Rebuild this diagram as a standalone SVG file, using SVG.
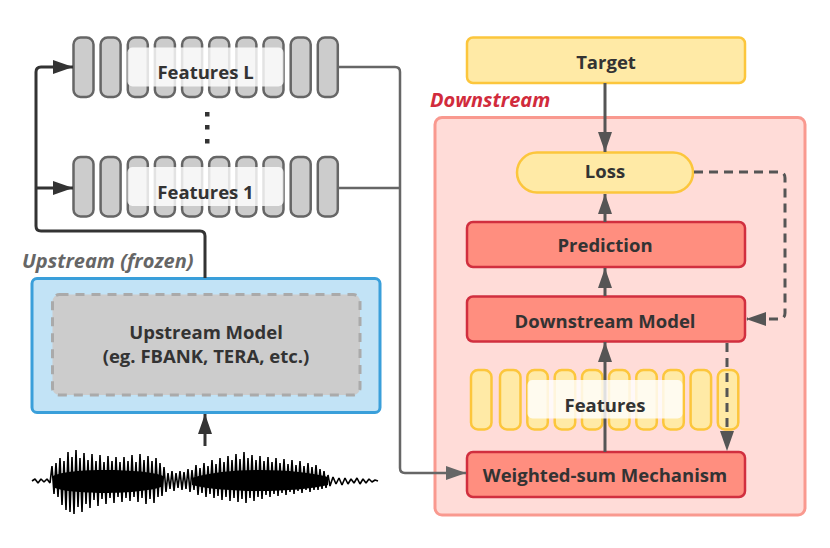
<svg xmlns="http://www.w3.org/2000/svg" width="830" height="548" viewBox="0 0 830 548">
<defs>
<style>
.t{font-family:"Open Sans","Liberation Sans",sans-serif;font-weight:700;font-size:18.5px;fill:#333;text-anchor:middle}
.gbar{fill:#cccccc;stroke:#666;stroke-width:2.5}
.ybar{fill:#ffeaa6;stroke:#fcc63c;stroke-width:2.5}
.lbl{fill:#fff;fill-opacity:0.82}
.red{fill:#ff8e7f;stroke:#d12f3f;stroke-width:2.5}
.yel{fill:#ffeaa6;stroke:#fcc63c;stroke-width:2.5}
.c1{fill:none;stroke:#333;stroke-width:3}
.c2{fill:none;stroke:#666;stroke-width:2.5}
.c3{fill:none;stroke:#555;stroke-width:3}
.dash{fill:none;stroke:#555;stroke-width:3;stroke-dasharray:9 6}
</style>
<marker id="a1" markerUnits="userSpaceOnUse" markerWidth="20" markerHeight="14" refX="20" refY="7" orient="auto"><path d="M0,0 L20,7 L0,14 z" fill="#333"/></marker>
<marker id="a2" markerUnits="userSpaceOnUse" markerWidth="20" markerHeight="14" refX="20" refY="7" orient="auto"><path d="M0,0 L20,7 L0,14 z" fill="#666"/></marker>
<marker id="a3" markerUnits="userSpaceOnUse" markerWidth="20" markerHeight="14" refX="20" refY="7" orient="auto"><path d="M0,0 L20,7 L0,14 z" fill="#555"/></marker>
</defs>
<rect width="830" height="548" fill="#fff"/>

<g id="downstream-container">
<rect x="435" y="117.5" width="370" height="397.5" rx="7" fill="#ffdcd8" stroke="#f9998f" stroke-width="3"/>
<text x="430" y="107" style="font-family:'Open Sans','Liberation Sans',sans-serif;font-weight:700;font-style:italic;font-size:20px;fill:#d12b3c">Downstream</text>
</g>

<g id="upstream-container">
<rect x="32" y="278.5" width="348" height="134" rx="5" fill="#c2e3f6" stroke="#3a9fda" stroke-width="3"/>
<text x="22" y="268" style="font-family:'Open Sans','Liberation Sans',sans-serif;font-weight:700;font-style:italic;font-size:20px;fill:#666">Upstream (frozen)</text>
</g>

<g id="upstream-model">
<rect x="52.5" y="294.5" width="307.5" height="100.5" rx="7" fill="#cccccc" stroke="#aaa" stroke-width="3" stroke-dasharray="9 7"/>
<text class="t" x="206" y="339">Upstream Model</text>
<text class="t" x="206" y="363">(eg. FBANK, TERA, etc.)</text>
</g>

<g id="features-L">
<rect class="gbar" x="73.5" y="37.5" width="20" height="59.5" rx="7"/>
<rect class="gbar" x="100.6" y="37.5" width="20" height="59.5" rx="7"/>
<rect class="gbar" x="127.8" y="37.5" width="20" height="59.5" rx="7"/>
<rect class="gbar" x="154.9" y="37.5" width="20" height="59.5" rx="7"/>
<rect class="gbar" x="182.1" y="37.5" width="20" height="59.5" rx="7"/>
<rect class="gbar" x="209.2" y="37.5" width="20" height="59.5" rx="7"/>
<rect class="gbar" x="236.4" y="37.5" width="20" height="59.5" rx="7"/>
<rect class="gbar" x="263.5" y="37.5" width="20" height="59.5" rx="7"/>
<rect class="gbar" x="290.7" y="37.5" width="20" height="59.5" rx="7"/>
<rect class="gbar" x="317.8" y="37.5" width="20" height="59.5" rx="7"/>
<rect class="lbl" x="127.5" y="47.5" width="156" height="39" rx="5"/>
<text class="t" x="205.5" y="79">Features L</text>
</g>

<g id="dots" fill="#333">
<rect x="205" y="112" width="4.5" height="4.5"/>
<rect x="205" y="125" width="4.5" height="4.5"/>
<rect x="205" y="139" width="4.5" height="4.5"/>
</g>

<g id="features-1">
<rect class="gbar" x="73.5" y="157" width="20" height="59.5" rx="7"/>
<rect class="gbar" x="100.6" y="157" width="20" height="59.5" rx="7"/>
<rect class="gbar" x="127.8" y="157" width="20" height="59.5" rx="7"/>
<rect class="gbar" x="154.9" y="157" width="20" height="59.5" rx="7"/>
<rect class="gbar" x="182.1" y="157" width="20" height="59.5" rx="7"/>
<rect class="gbar" x="209.2" y="157" width="20" height="59.5" rx="7"/>
<rect class="gbar" x="236.4" y="157" width="20" height="59.5" rx="7"/>
<rect class="gbar" x="263.5" y="157" width="20" height="59.5" rx="7"/>
<rect class="gbar" x="290.7" y="157" width="20" height="59.5" rx="7"/>
<rect class="gbar" x="317.8" y="157" width="20" height="59.5" rx="7"/>
<rect class="lbl" x="127.5" y="167" width="156" height="39" rx="5"/>
<text class="t" x="205.5" y="199">Features 1</text>
</g>

<g id="target">
<rect class="yel" x="467" y="37.5" width="278" height="45.5" rx="6"/>
<text class="t" x="606" y="69">Target</text>
</g>

<g id="loss">
<rect class="yel" x="517" y="152.5" width="176" height="40" rx="20"/>
<text class="t" x="605" y="178">Loss</text>
</g>

<g id="prediction">
<rect class="red" x="467" y="222" width="278" height="45" rx="6"/>
<text class="t" x="605" y="252">Prediction</text>
</g>

<g id="downstream-model">
<rect class="red" x="467" y="296.5" width="278" height="45" rx="6"/>
<text class="t" x="605" y="328">Downstream Model</text>
</g>

<g id="features">
<rect class="ybar" x="471" y="370" width="20.5" height="59.5" rx="7"/>
<rect class="ybar" x="500" y="370" width="20.5" height="59.5" rx="7"/>
<rect class="ybar" x="527.3" y="370" width="20.5" height="59.5" rx="7"/>
<rect class="ybar" x="554.7" y="370" width="20.5" height="59.5" rx="7"/>
<rect class="ybar" x="582" y="370" width="20.5" height="59.5" rx="7"/>
<rect class="ybar" x="609" y="370" width="20.5" height="59.5" rx="7"/>
<rect class="ybar" x="636.3" y="370" width="20.5" height="59.5" rx="7"/>
<rect class="ybar" x="663.3" y="370" width="20.5" height="59.5" rx="7"/>
<rect class="ybar" x="690.6" y="370" width="20.5" height="59.5" rx="7"/>
<rect class="ybar" x="717.8" y="370" width="20.5" height="59.5" rx="7"/>
</g>

<g id="weighted-sum">
<rect class="red" x="467" y="452" width="278" height="45" rx="6"/>
<text class="t" x="605" y="482">Weighted-sum Mechanism</text>
</g>

<g id="connectors">
<path class="c1" d="M205,278 V236 Q205,231 200,231 H41 Q36,231 36,226 V72 Q36,67 41,67 H73" marker-end="url(#a1)"/>
<path class="c1" d="M36,188 H73" marker-end="url(#a1)"/>
<path class="c1" d="M205,446 V414" marker-end="url(#a1)"/>
<path class="c2" d="M339,67 H395 Q400,67 400,72 V468 Q400,473 405,473 H466" marker-end="url(#a2)"/>
<path class="c2" d="M339,188 H400"/>
<path class="c3" d="M605,83 V152" marker-end="url(#a3)"/>
<path class="c3" d="M605,222 V194" marker-end="url(#a3)"/>
<path class="c3" d="M605,296 V268" marker-end="url(#a3)"/>
<path class="c3" d="M605,452 V342" marker-end="url(#a3)"/>
<path class="dash" d="M694,172 H779 Q785,172 785,178 V313 Q785,319 779,319 H747"/>
<path d="M746,319 L766,312 L766,326 z" fill="#555"/>
<path class="dash" d="M727,343 V436"/>
<path d="M727,451 L720,431 L734,431 z" fill="#555"/>
</g>

<g id="features-label">
<rect class="lbl" x="527.5" y="380" width="155" height="38.5" rx="5"/>
<text class="t" x="605" y="411.5">Features</text>
</g>

<g id="waveform">
<path fill="#000" d="M53,476 C70,467 150,469 163,476 L163,486 C150,494 70,496 53,487 z M192,478 C230,466 300,469 328,477 L328,485 C300,492 230,494 192,485 z"/>
<path fill="none" stroke="#000" stroke-width="1.6" stroke-linejoin="bevel" d="M32,481 L35,479 L38,483 L41,479 L44,482 L47,479 L50,483
L52,466 L54,494 L56,463 L58,497 L60,458 L62,505 L64,461 L66,510 L68,452 L70,512 L72,457 L74,514 L76,450 L78,507 L80,458 L82,512 L84,453 L86,504 L88,460 L90,508 L92,454 L94,500 L96,461 L98,506 L100,455 L102,499 L104,462 L106,504 L108,456 L110,498 L112,461 L114,503 L116,457 L118,497 L120,462 L122,502 L124,457 L126,498 L128,461 L130,501 L132,455 L134,497 L136,462 L138,502 L140,454 L142,498 L144,460 L146,504 L148,456 L150,499 L152,461 L154,503 L156,458 L158,497 L160,463 L162,496 L164,467 L166,492
L168,473 L170,489 L172,471 L174,491 L176,473 L178,488 L180,471 L182,490 L184,472 L186,489 L188,469 L190,492
L192,470 L194,490 L196,465 L198,495 L200,468 L202,493 L204,463 L206,497 L208,466 L210,494 L212,460 L214,498 L216,464 L218,496 L220,458 L222,500 L224,462 L226,497 L228,456 L230,501 L232,460 L234,498 L236,454 L238,502 L240,459 L242,499 L244,452 L246,503 L248,458 L250,498 L252,455 L254,501 L256,460 L258,497 L260,456 L262,499 L264,461 L266,495 L268,457 L270,497 L272,462 L274,494 L276,458 L278,496 L280,463 L282,493 L284,459 L286,495 L288,464 L290,492 L292,460 L294,494 L296,465 L298,491 L300,461 L302,493 L304,466 L306,490 L308,463 L310,492 L312,467 L314,490 L316,465 L318,490 L320,469 L322,489 L324,471 L326,488 L328,475 L330,486
L333,477 L336,484 L339,478 L342,485 L345,478 L348,484 L351,479 L354,483 L357,478 L360,484 L363,479 L366,483 L369,479 L372,482 L375,480 L378,481"/>
</g>
</svg>
